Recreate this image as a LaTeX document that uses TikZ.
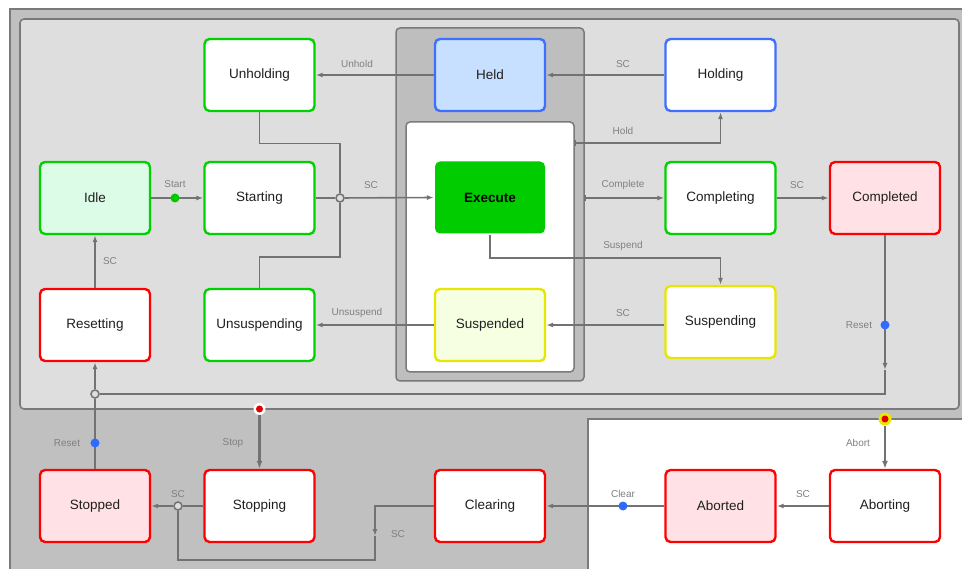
\documentclass[tikz,border=0pt]{standalone}
\usepackage{fontspec}
\setmainfont{Liberation Sans}
\usetikzlibrary{arrows.meta}
\definecolor{outerg}{HTML}{C0C0C0}
\definecolor{innerg}{HTML}{DEDEDE}
\definecolor{panelg}{HTML}{BEBEBE}
\definecolor{bordg}{HTML}{7A7A7A}
\definecolor{lgray}{HTML}{727272}
\definecolor{labgray}{HTML}{808080}
\definecolor{sgreen}{HTML}{00D200}
\definecolor{sred}{HTML}{FF0000}
\definecolor{sblue}{HTML}{3F6FFF}
\definecolor{syellow}{HTML}{E6E600}
\definecolor{pinkf}{HTML}{FFE1E6}
\definecolor{greenf}{HTML}{DCFCE8}
\definecolor{bluef}{HTML}{C8E0FF}
\definecolor{yellowf}{HTML}{F7FFE3}
\definecolor{execf}{HTML}{00CC00}
\definecolor{dotblue}{HTML}{2F6BFF}
\definecolor{dotgreen}{HTML}{00C800}
\definecolor{dotred}{HTML}{E00000}
\definecolor{ringyellow}{HTML}{E8E800}
\tikzset{
  st/.style={draw, rounded corners=5pt, minimum width=110pt, minimum height=72pt,
    line width=2.4pt, inner sep=0pt, text=black!88, font=\fontsize{13.5}{15}\selectfont},
  gst/.style={st, draw=sgreen, fill=white},
  rst/.style={st, draw=sred, fill=white},
  bst/.style={st, draw=sblue, fill=white},
  yst/.style={st, draw=syellow, fill=white},
  conn/.style={draw=lgray, line width=1.6pt},
  arr/.style={conn, -{Latex[length=7pt,width=5pt]}},
  thickarr/.style={draw=lgray, line width=2.2pt, -{Latex[length=8pt,width=6pt]}},
  lab/.style={text=labgray, font=\fontsize{10}{12}\selectfont, inner sep=0pt},
  junc/.style={circle, draw=lgray, fill=innerg, line width=1.5pt, minimum size=8pt, inner sep=0pt},
  bdot/.style={circle, fill=dotblue, minimum size=9pt, inner sep=0pt},
  gdot/.style={circle, fill=dotgreen, minimum size=9pt, inner sep=0pt},
  tick/.style={fill=lgray, minimum width=2.5pt, minimum height=6pt, inner sep=0pt},
}
\begin{document}
\begin{tikzpicture}[x=1pt, y=-1pt]
\useasboundingbox (0,0) rectangle (962,569);
\clip (0,0) rectangle (962,569);
\fill[white] (0,0) rectangle (962,569);
% backgrounds
\draw[fill=outerg, draw=bordg, line width=2pt] (10,9) rectangle (980,590);
\draw[fill=innerg, draw=bordg, line width=1.6pt, rounded corners=4pt] (20,19) rectangle (959,409);
\draw[fill=white, draw=bordg, line width=1.6pt] (588,419) rectangle (980,590);
\draw[fill=panelg, draw=bordg, line width=1.5pt, rounded corners=4pt] (396,28) rectangle (584,381);
\draw[fill=white, draw=bordg, line width=1.5pt, rounded corners=4pt] (406,122) rectangle (574,372);

% states
\node[gst] (unholding) at (259.5,75) {Unholding};
\node[gst, fill=greenf] (idle) at (95,198) {Idle};
\node[gst] (starting) at (259.5,198) {Starting};
\node[gst] (unsusp) at (259.5,325) {Unsuspending};
\node[rst] (resetting) at (95,325) {Resetting};
\node[bst, fill=bluef] (held) at (490,75) {Held};
\node[bst] (holding) at (720.5,75) {Holding};
\node[st, draw=none, fill=execf, font=\fontsize{13.5}{15}\selectfont\bfseries, text=black] (exec) at (490,197.5) {Execute};
\node[gst] (completing) at (720.5,198) {Completing};
\node[rst, fill=pinkf] (completed) at (885,198) {Completed};
\node[yst, fill=yellowf] (suspended) at (490,325) {Suspended};
\node[yst] (suspending) at (720.5,322) {Suspending};
\node[rst, fill=pinkf] (stopped) at (95,506) {Stopped};
\node[rst] (stopping) at (259.5,506) {Stopping};
\node[rst] (clearing) at (490,506) {Clearing};
\node[rst, fill=pinkf] (aborted) at (720.5,506) {Aborted};
\node[rst] (aborting) at (885,506) {Aborting};

% junctions and coordinates
\coordinate (hs) at (575,143);
\coordinate (cs) at (585,198);
\coordinate (ra) at (885,370);
\coordinate (sa) at (375,536);
\coordinate (sb) at (178,560);

% connectors
\draw[arr] (held.west) -- (unholding.east);
\node[lab] (lunhold) at (357,64) {Unhold};
\draw[arr] (holding.west) -- (held.east);
\node[lab] (lsc1) at (623,64) {SC};
\draw[arr] (hs) -| (holding.south);
\node[tick] (hst) at (hs) {};
\node[lab] (lhold) at (623,131) {Hold};

\draw[arr] (idle.east) -- (starting.west);
\node[gdot] (startdot) at (175,198) {};
\node[lab] (lstart) at (175,184) {Start};

\node[junc] (j1) at (340,198) {};
\draw[conn] (starting.east) -- (j1);
\draw[arr] (j1) -- (exec.west);
\draw[conn] (unholding.south) -- ++(0,31.5) -| (j1);
\draw[conn] (unsusp.north) -- ++(0,-30.5) -| (j1);
\node[lab] (lsc2) at (371,185) {SC};

\draw[arr] (cs) -- (completing.west);
\node[tick] (cst) at (cs) {};
\node[lab] (lcomplete) at (623,185) {Complete};
\draw[arr] (completing.east) -- (completed.west);
\node[lab] (lsc3) at (797,185) {SC};

\draw[arr] (exec.south) -- ++(0,23.5) -| (suspending.north);
\node[lab] (lsuspend) at (623,246) {Suspend};
\draw[arr] (suspending.west |- suspended.east) -- (suspended.east);
\node[lab] (lsc4) at (623,313) {SC};
\draw[arr] (suspended.west) -- (unsusp.east);
\node[lab] (lunsusp) at (357,313) {Unsuspend};

\draw[arr] (resetting.north) -- (idle.south);
\node[lab] (lsc5) at (110,261) {SC};

\node[junc] (j2) at (95,394) {};
\draw[arr] (completed.south) -- (ra);
\draw[conn] (ra) |- (j2);
\draw[arr] (j2) -- (resetting.south);
\node[bdot] (rdot1) at (885,325) {};
\node[lab] (lreset1) at (859,325) {Reset};
\draw[conn] (stopped.north) -- (j2);
\node[bdot] (rdot2) at (95,443) {};
\node[lab] (lreset2) at (67,443) {Reset};

\node[circle, fill=white, minimum size=12pt, inner sep=0pt] (stopdot) at (259.5,409) {};
\draw[thickarr] (stopdot) -- (stopping.north);
\node[circle, fill=dotred, minimum size=7pt, inner sep=0pt] at (stopdot) {};
\node[lab] (lstop) at (233,443) {Stop};

\node[junc] (j3) at (178,506) {};
\draw[conn] (stopping.west) -- (j3);
\draw[arr] (j3) -- (stopped.east);
\node[lab] (lsc6) at (178,494) {SC};
\draw[arr] (clearing.west) -| (sa);
\draw[conn] (sa) |- (sb) -- (j3);
\node[lab] (lsc7) at (398,534) {SC};

\draw[arr] (aborted.west) -- (clearing.east);
\node[bdot] (cdot) at (623,506) {};
\node[lab] (lclear) at (623,494) {Clear};
\draw[arr] (aborting.west) -- (aborted.east);
\node[lab] (lsc8) at (803,494) {SC};

\node[circle, fill=ringyellow, minimum size=13pt, inner sep=0pt] (abortdot) at (885,419) {};
\draw[thickarr] (abortdot) -- (aborting.north);
\node[circle, fill=dotred, minimum size=7pt, inner sep=0pt] at (abortdot) {};
\node[lab] (labort) at (858,443) {Abort};
\end{tikzpicture}
\end{document}
